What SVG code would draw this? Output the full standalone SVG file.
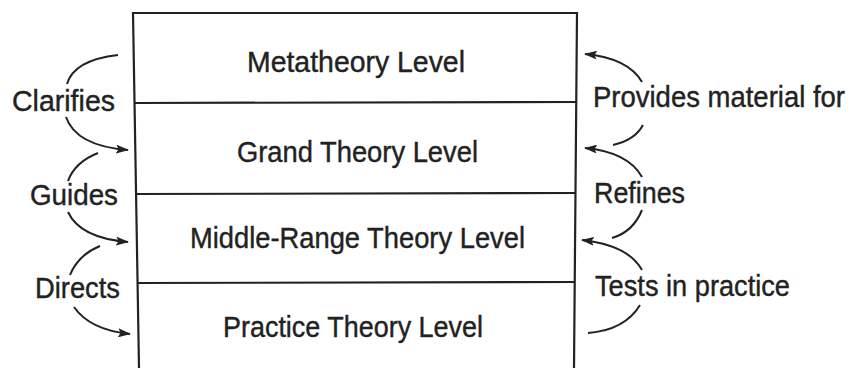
<svg xmlns="http://www.w3.org/2000/svg" width="858" height="368" viewBox="0 0 858 368">
<style>
  text { font-family: "Liberation Sans", Arial, sans-serif; font-size: 29px; fill: #222; stroke: #222; stroke-width: 0.4; }
  .box { fill: none; stroke: #222; stroke-width: 2.2; }
  .arc { fill: none; stroke: #222; stroke-width: 2; }
</style>
<defs>
  <marker id="ah" viewBox="0 0 13 9" refX="12" refY="4.5" markerWidth="13" markerHeight="9" markerUnits="userSpaceOnUse" orient="auto">
    <path d="M0,0 L13,4.5 L0,9 L2.5,4.5 Z" fill="#222"/>
  </marker>
</defs>
<rect width="858" height="368" fill="#fff"/>
<g id="frame">
  <path class="box" d="M139,368 L133,13 L577,13 L574,368"/>
</g>
<g id="metatheory">
  <line class="box" x1="134" y1="103" x2="576" y2="102"/>
  <text x="247" y="72" textLength="218" lengthAdjust="spacingAndGlyphs">Metatheory Level</text>
</g>
<g id="grand">
  <line class="box" x1="135" y1="194" x2="575" y2="193"/>
  <text x="237" y="162" textLength="241" lengthAdjust="spacingAndGlyphs">Grand Theory Level</text>
</g>
<g id="middle">
  <line class="box" x1="137" y1="283" x2="575" y2="282"/>
  <text x="190" y="248" textLength="335" lengthAdjust="spacingAndGlyphs">Middle-Range Theory Level</text>
</g>
<g id="practice">
  <text x="223" y="337" textLength="260" lengthAdjust="spacingAndGlyphs">Practice Theory Level</text>
</g>
<g id="labels">
  <text x="12" y="111" textLength="103" lengthAdjust="spacingAndGlyphs">Clarifies</text>
  <text x="30" y="205" textLength="88" lengthAdjust="spacingAndGlyphs">Guides</text>
  <text x="35" y="298" textLength="85" lengthAdjust="spacingAndGlyphs">Directs</text>
  <text x="593" y="107" textLength="252" lengthAdjust="spacingAndGlyphs">Provides material for</text>
  <text x="594" y="203" textLength="91" lengthAdjust="spacingAndGlyphs">Refines</text>
  <text x="595" y="296" textLength="195" lengthAdjust="spacingAndGlyphs">Tests in practice</text>
</g>
<g id="connectors">
  <path class="arc" d="M118,55 Q74,60 67,84"/>
  <path class="arc" d="M66,117 Q76,146 128,150" marker-end="url(#ah)"/>
  <path class="arc" d="M98,153 Q75,162 68,181"/>
  <path class="arc" d="M68,212 Q80,238 128,242" marker-end="url(#ah)"/>
  <path class="arc" d="M100,246 Q78,255 70,275"/>
  <path class="arc" d="M74,307 Q90,330 130,334" marker-end="url(#ah)"/>
  <path class="arc" d="M642,82 Q628,58 585,54" marker-end="url(#ah)"/>
  <path class="arc" d="M643,125 Q635,140 613,145"/>
  <path class="arc" d="M642,177 Q628,152 585,148" marker-end="url(#ah)"/>
  <path class="arc" d="M642,210 Q633,232 612,238"/>
  <path class="arc" d="M642,270 Q628,245 582,240" marker-end="url(#ah)"/>
  <path class="arc" d="M640,305 Q625,330 588,333"/>
</g>
</svg>
